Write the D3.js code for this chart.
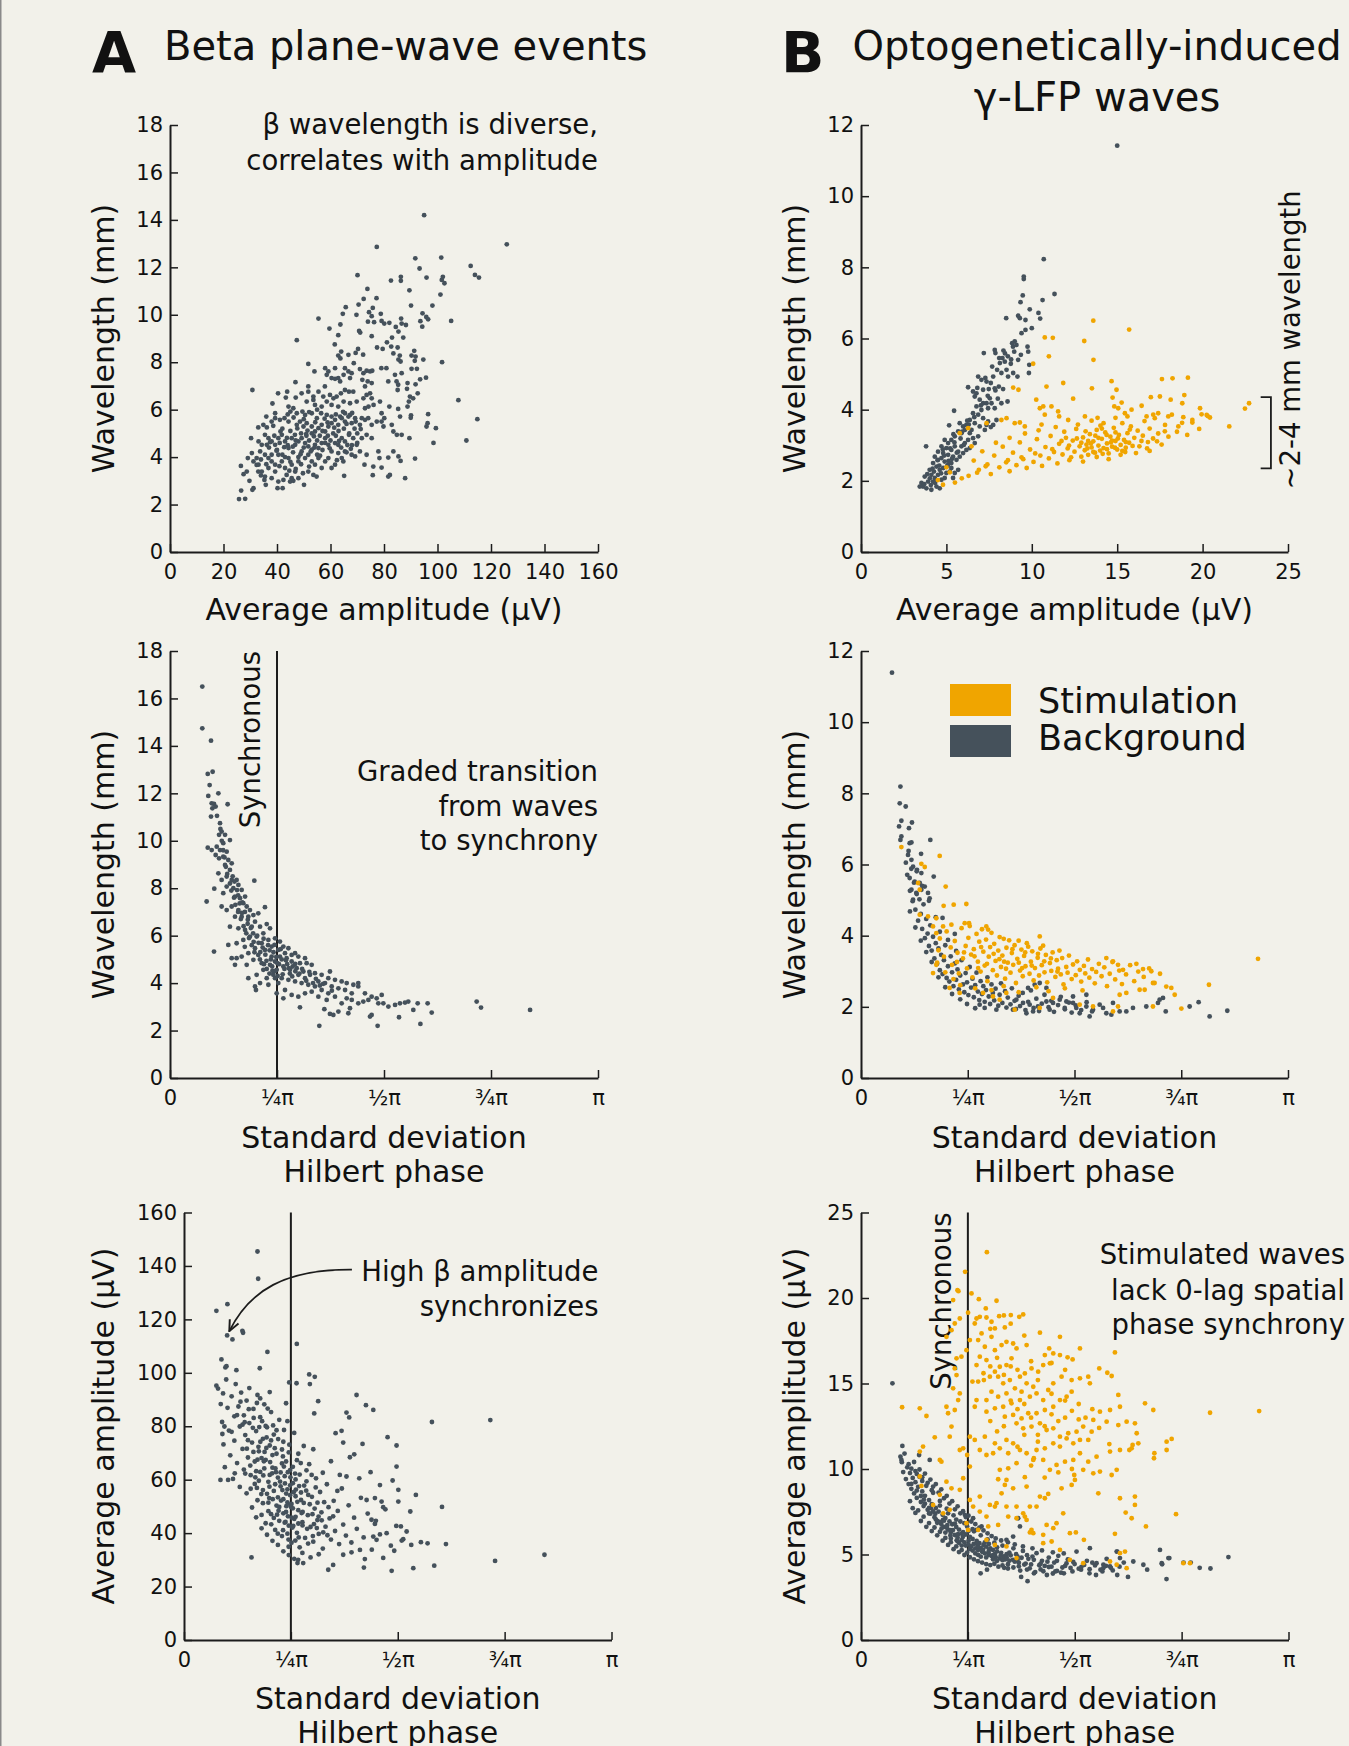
<!DOCTYPE html>
<html lang="en">
  <head>
    <meta charset="UTF-8" />
    <title>Beta and gamma plane-wave events</title>
    <style>
      body { margin: 0; background: #f2f1ea; }
      text { font-family: 'DejaVu Sans', sans-serif; fill: #111; }
    </style>
  </head>
  <body>
    <script src="https://d3js.org/d3.v7.min.js"></script>
    <script>
      // values (estimated point by point)
      // A, top: average amplitude (uV) vs wavelength (mm)
      const betaAmpWl = [[95,14.2],[125.9,12.97],[77.3,12.86],[91.7,12.38],[101.4,12.41],[112.4,12.06],[114,11.68],[115.5,11.57],[93.3,11.95],[70.1,11.67],[82.6,11.44],[86.3,11.6],[86.3,11.43],[95.9,11.57],[102,11.6],[101.6,11.47],[102.6,11.33],[89.5,11.03],[73.8,11.09],[77.2,10.7],[101.1,10.85],[72.4,10.67],[90.1,10.39],[98.1,10.39],[70.5,10.43],[65.7,10.32],[75.8,10.29],[94.4,10.06],[93.6,9.73],[95.8,9.91],[96.5,9.81],[94.3,9.5],[105.1,9.74],[55.5,9.84],[64.6,10.04],[69.7,10.0],[74.4,10.11],[75.4,9.94],[74,9.71],[76.3,9.69],[78.8,10.04],[79.1,9.74],[80.1,9.63],[82,9.66],[84.4,9.49],[85.4,9.29],[86.4,9.84],[86.6,9.63],[88.2,9.57],[87.2,9.04],[59.6,9.42],[63.7,9.59],[62.9,9.14],[70.7,9.32],[71.1,9.25],[75.4,9.1],[83,9.04],[47.4,8.93],[61.6,8.75],[77.4,8.62],[79.5,8.56],[81.1,8.84],[82.7,8.66],[83.5,8.37],[85.1,8.62],[64,8.45],[62.9,8.28],[63.7,8.16],[66.7,8.31],[69.4,8.39],[70.3,8.56],[72.2,8.32],[85.9,8.28],[85.4,8.11],[86.2,8.03],[91.3,8.48],[90.3,8.28],[91.8,8.24],[91.5,8.06],[94.7,8.11],[101.7,8.0],
        [51.7,7.93],[54,7.61],[58,7.75],[59.2,7.61],[58.6,7.47],[60.4,7.33],[61.7,7.3],[62.9,7.33],[63.6,7.19],[61.7,7.75],[65.4,7.75],[66.7,7.61],[64.9,7.47],[67.3,7.33],[67.9,7.54],[68.7,7.96],[71,7.71],[72.3,7.54],[73.5,7.64],[74.8,7.61],[75.6,7.64],[71.9,7.26],[73.9,7.19],[75.4,7.12],[72.9,6.98],[79,7.75],[80.9,7.75],[81.6,7.19],[84.1,7.47],[84.7,7.19],[85.3,7.05],[85.1,6.83],[86.6,7.54],[88.8,7.12],[88.6,6.88],[90.3,7.72],[92.3,7.72],[91.8,7.07],[93.5,7.28],[95.7,7.35],[46.9,7.16],[43.8,6.76],[40.4,6.69],[30.8,6.83],[43.3,6.51],[47,6.51],[49.2,6.69],[51.7,6.98],[51.7,6.76],[53.6,6.55],[55.5,6.76],[57.3,6.55],[57.9,6.98],[51.1,6.34],[53.6,6.41],[54.2,6.2],[56.7,6.13],[58.6,6.34],[59.8,6.62],[61.1,6.48],[62.3,6.55],[63.9,6.69],[65.4,6.83],[66.9,6.76],[68.5,6.76],[60.4,6.2],[62.9,6.13],[64.9,6.34],[67.3,6.27],[69.8,6.34],[72.3,6.48],[73.5,6.62],[74.8,6.69],[75.4,6.48],[38.3,6.26],[39.3,5.85],[36.0,5.71],[44.3,6.13],[45,5.92],[46.1,6.06],[47.4,5.85],[49.5,5.92],[50.5,5.78],[53,5.85],[54.9,5.64],[56.5,5.85],[58.6,5.78],[60.4,5.71],[63.6,5.71],[65.4,5.85],[67.3,5.78],[69.2,5.64],[71.7,5.64],[72.9,6.06],[74.2,6.13],[76.1,6.2],[78.5,6.34],[82,6.13],[79.1,5.85],[80.1,5.64],[85.3,6.03],[86,5.71],[88.8,6.13],[89.3,6.34],[89.7,6.55],[90.9,6.48],[92.6,6.69],[90.1,5.76],[90,5.66],[96.5,5.81],[96.3,5.43],[95.9,5.29],[99.4,5.22],[98.5,4.6],[107.8,6.4],[114.9,5.6],[110.8,4.7],[91.6,3.94],[87.9,3.11],
        [33,5.25],[30.3,4.8],[30.6,4.17],[26.5,3.63],[25.8,2.23],[28.1,2.24],[26.6,2.59],[27.5,3.28],[29.1,3.96],[28.7,3.39],[29.7,3.0],[31.2,2.69],[30.8,2.62],[32.4,3.67],[33,3.39],[34,3.23],[35.3,3.04],[35.8,2.83],[34.9,5.36],[36.2,5.25],[38,5.5],[39.3,5.64],[41.1,5.57],[42.8,5.64],[44.3,5.5],[35.5,4.94],[36.8,4.8],[38,4.66],[39.3,4.52],[40.5,4.8],[41.8,4.94],[43,4.66],[44.3,4.38],[45.5,4.8],[46.7,4.94],[47.4,5.36],[48.6,5.5],[49.9,5.29],[51.1,5.43],[53,5.29],[54.2,5.08],[55.5,5.22],[56.7,5.36],[58,5.08],[59.2,5.29],[60.4,5.43],[61.7,5.57],[62.9,5.36],[64.2,5.64],[65.4,5.5],[66.7,5.71],[67.9,5.43],[69.4,5.5],[71,5.36],[72.9,5.57],[74.1,5.64],[75.4,5.36],[77.3,5.5],[79.1,5.5],[79.8,5.29],[82.9,5.36],[83.5,5.08],[84.8,4.94],[86.6,4.94],[89.5,4.8],
        [46.8,4.52],[48,4.66],[49.2,4.8],[50.5,4.59],[51.7,4.45],[53,4.31],[54.2,4.52],[55.5,4.38],[56.7,4.59],[58,4.8],[59.2,4.52],[60.4,4.24],[61.7,4.59],[62.9,4.52],[64.2,4.8],[65.4,4.66],[66.9,4.94],[68.5,4.8],[69.8,4.52],[71.7,4.8],[73.5,4.94],[75.4,4.8],[49.2,4.24],[50.5,3.96],[51.7,4.1],[53,3.82],[54.2,3.68],[55.5,3.96],[56.7,3.54],[58,3.82],[59.2,3.96],[60.4,3.54],[61.7,3.68],[62.9,4.17],[64.2,3.96],[64.8,3.82],[65.4,4.24],[67.9,4.1],[69.2,4.03],[71,4.24],[72.7,3.68],[73.5,4.1],[76,3.6],[77.9,4.24],[78.3,3.96],[79.1,3.56],[81.6,3.98],[81.6,3.18],[82.2,3.25],[83.5,4.24],[85.4,4.03],[86.2,3.84],[75.8,3.24],[65.1,3.21],[35.5,4.1],[36.8,3.96],[38,3.82],[39.3,3.68],[40.5,4.1],[41.8,3.82],[43,3.54],[44.3,3.96],[45.5,3.68],[46.8,3.39],[48,3.82],[33.1,3.68],[34.3,3.39],[35.5,3.18],[36.8,3.54],[38,3.11],[39.3,3.39],[40.5,2.97],[42.4,3.04],[43.6,3.25],[44.9,2.97],[46.1,3.0],[48,3.11],[50.1,2.83],[40.2,2.69],[42.1,2.69],[45.5,3.11],[51.7,3.39],[53.6,3.25],[54.8,3.18],[31.2,3.82],[32.4,3.96],[33.7,4.24],[34.3,4.52],[33.1,4.66],[36.2,4.52],
        [40,4.3],[42,4.1],[44,4.5],[46,4.2],[48,4.0],[50,4.4],[52,4.7],[54,4.4],[56,4.9],[58,4.6],[45,5.1],[47,4.7],[49,5.0],[51,4.9],[53,5.0],[55,4.7],[57,5.1],[59,4.9],[61,5.0],[63,5.1],[65,5.2],[67,5.0],[69,5.2],[42,5.2],[41,4.6],[43,4.0],[45,3.8],[47,3.5],[49,3.7],[52,3.6],[55,4.1],[57,4.3],[60,4.7],[62,4.9],[64,4.4],[66,4.2],[68,4.5],[70,4.6],[39,4.9],[37,4.4],[38,4.1],[36,3.7],[34,3.9],[50,5.6],[52,5.9],[55,6.0],[44,5.8],[62,5.8],[66,5.4],[70,5.0],
        [37.4,4.63],[39.8,4.27],[41.3,5.08],[43.7,4.81],[45.9,4.44],[47.6,5.21],[48.8,4.12],[50.9,4.97],[52.6,4.24],[54.3,5.47],[56.1,4.06],[57.8,5.62],[59.7,4.37],[61.4,5.24],[63.2,4.68],[64.7,5.91],[66.3,4.51],[68.1,5.86],[40.9,3.62],[44.6,3.43],[46.2,5.67],[49.7,3.32],[53.8,4.88],[58.9,5.46],[62.4,3.87],[67.6,4.35],[71.3,5.18],[38.6,5.32],[42.7,4.42],[51.4,5.12]]

      // A, middle: std of Hilbert phase (rad) vs wavelength (mm)
      const betaPhaseWl = [[0.237,16.5],[0.237,14.74],[0.301,14.22],[0.277,12.82],[0.313,12.91],[0.291,12.35],[0.281,11.89],[0.355,12.0],[0.306,11.58],[0.323,11.55],[0.311,11.37],[0.335,11.44],[0.423,11.54],[0.301,11.02],[0.345,11.05],[0.367,10.74],[0.379,10.39],[0.36,10.25],[0.404,10.25],[0.44,10.03],[0.391,9.9],
        [0.277,9.71],[0.306,9.61],[0.343,9.75],[0.367,9.61],[0.416,9.54],[0.335,9.4],[0.36,9.26],[0.391,9.33],[0.428,9.19],[0.453,9.05],[0.404,8.98],[0.44,8.77],[0.355,8.63],[0.416,8.49],[0.379,8.35],[0.453,8.35],[0.489,8.35],[0.619,8.32],[0.502,8.14],[0.465,8.0],[0.526,7.93],[0.416,8.07],[0.391,7.79],[0.325,7.98],[0.269,7.44],[0.477,7.65],[0.514,7.58],[0.551,7.65],[0.538,7.37],[0.563,7.23],[0.587,7.08],[0.502,7.08],[0.453,7.23],[0.379,7.23],[0.416,7.08],[0.477,6.8],[0.526,6.8],[0.575,6.8],[0.612,6.87],[0.648,6.94],[0.697,7.2],[0.624,6.59],[0.44,6.38],[0.502,6.31],[0.551,6.24],[0.6,6.38],[0.661,6.38],[0.71,6.49],[0.734,6.31],[0.685,6.1],[0.636,5.96],[0.587,5.96],[0.538,5.82],[0.489,5.68],[0.428,5.61],[0.453,5.05],[0.489,5.05],[0.526,5.12],[0.575,5.26],[0.624,5.47],[0.673,5.68],[0.722,5.82],[0.771,5.89],[0.807,5.75],[0.832,5.54],[0.869,5.47],[0.918,5.26],[0.746,5.54],[0.697,5.4],[0.648,5.19],[0.612,4.98],[0.563,4.77],[0.477,4.77],[0.575,4.21],[0.636,4.35],[0.685,4.56],[0.734,4.77],[0.771,4.91],[0.807,5.12],[0.856,5.05],[0.893,4.91],[0.954,4.84],[1.003,4.84],[1.04,4.77],[0.783,4.56],[0.832,4.7],[0.881,4.56],[0.93,4.63],[0.979,4.49],[1.028,4.35],[1.064,4.42],[1.113,4.35],[1.174,4.49],[1.162,4.21],[1.211,4.14],[1.26,4.07],[1.297,4.0],[1.346,3.93],[1.382,4.0],[1.382,3.86],[1.431,3.57],[1.48,3.43],[1.517,3.36],[1.554,3.5],[1.603,3.01],[1.652,3.08],[1.688,3.15],[1.725,3.18],[1.749,3.22],[1.818,3.15],[1.786,2.87],[1.891,3.15],[1.921,2.76],[2.251,3.22],[2.283,2.97],[2.643,2.87],[1.529,3.15],[1.48,2.66],[1.468,2.59],[1.524,2.2],[1.681,2.56],[1.838,2.28],[1.096,2.2],[1.133,2.9],[1.174,2.7],[1.199,2.66],[1.236,2.8],[1.309,2.73],[1.321,2.94],[1.26,3.15],[1.211,3.43],[1.162,3.57],[1.113,3.71],[1.064,3.86],[1.015,3.93],[0.966,4.0],[0.918,4.07],[0.869,4.14],[0.82,4.21],[0.795,4.0],[0.844,3.71],[0.893,3.5],[0.942,3.43],[0.991,3.57],[1.04,3.64],[1.089,3.43],[1.15,3.29],[0.783,3.57],[0.832,3.36],[0.771,4.21],[0.71,4.21],[0.661,4.0],[0.631,3.71],[0.722,3.93],[0.323,5.33],[0.954,2.98],[0.624,3.86],[0.758,4.35],[0.673,4.84],[0.746,5.12],[0.795,5.4],[0.844,5.26],[0.893,5.19],[0.942,5.12],[0.991,5.05],[0.942,4.35],[0.991,4.21],[1.089,4.07],[1.138,4.0],[1.187,3.86],[1.236,3.78],[1.285,3.71],[1.334,3.57],[1.297,3.36],[1.334,3.29],[1.382,3.15],[1.419,3.22],[1.456,3.29],[1.566,3.15],
        [0.65,5.7],[0.68,5.5],[0.7,5.2],[0.72,5.6],[0.74,5.0],[0.76,5.3],[0.78,5.1],[0.8,4.8],[0.82,5.0],[0.84,4.6],[0.86,4.8],[0.88,4.4],[0.9,4.7],[0.66,5.0],[0.69,4.8],[0.71,4.6],[0.73,4.4],[0.75,4.7],[0.77,4.5],[0.79,4.3],[0.62,5.3],[0.6,5.6],[0.58,5.9],[0.56,6.1],[0.54,6.4],[0.52,6.7],[0.5,7.0],[0.48,7.3],[0.47,7.6],[0.45,7.9],[0.44,8.2],[0.42,8.6],[0.41,8.9],[0.4,9.3],[0.39,9.6],[0.38,10.0],[0.37,10.5],[0.57,6.5],[0.61,6.1],[0.64,6.0],[0.55,7.0],[0.53,7.4],[0.5,7.7],[0.46,8.5],[0.95,4.4],[1.0,4.1],[1.05,4.0],[1.1,3.9],[0.92,4.5],[0.97,4.6],
        [0.663,5.31],[0.687,5.87],[0.708,4.94],[0.731,5.38],[0.752,4.52],[0.767,5.61],[0.788,4.84],[0.812,5.43],[0.827,4.37],[0.851,4.96],[0.872,4.63],[0.897,4.28],[0.919,4.81],[0.614,5.74],[0.593,6.32],[0.571,6.67],[0.549,5.53],[0.528,6.96],[0.511,7.36],[0.492,7.92],[0.473,8.28],[1.023,4.47],[1.071,4.18],[1.124,3.97],[1.188,3.68]]

      // A, bottom: std of Hilbert phase (rad) vs average amplitude (uV)
      const betaPhaseAmp = [[0.54,145.4],[0.545,135.2],[0.319,125.7],[0.238,123.2],[0.317,114],[0.356,112.5],[0.434,115],[0.429,115.7],[0.829,110.8],[0.613,107.8],[0.275,105],[0.304,102],[0.312,102.5],[0.385,101],[0.557,101.7],[0.773,96.4],[0.827,96.1],[0.92,99.4],[0.961,98.5],[0.925,95.8],[0.986,89.4],[0.957,84.8],[1.114,77.4],[1.158,78.3],[1.194,85.1],[1.214,83.3],[1.268,91.7],[1.337,87.9],[1.391,86.1],[1.822,81.6],[2.251,82.3],[1.496,75.9],[1.562,72.8],[1.17,73.9],[1.312,73.4],[1.251,69.5],[1.219,68.4],[1.371,62.8],[1.44,58.0],[1.533,59.7],[1.562,64.9],[1.575,56.2],[1.704,54.3],[1.896,49.8],[1.663,48.1],[1.464,49.7],[1.575,51.8],[1.489,40.0],[1.594,42.5],[1.636,40.6],[1.611,37.7],[1.67,35.6],[1.741,36.6],[1.79,36.2],[1.925,35.9],[1.545,33.4],[1.464,30.7],[1.329,30.3],[0.496,30.9],[0.839,30.0],[0.876,28.8],[0.834,28.8],[1.06,26.3],[1.096,28.1],[1.322,27.1],[1.526,25.9],[1.685,26.9],[1.839,27.8],[2.286,29.6],[2.649,31.9],[0.238,95.2],[0.287,92.3],[0.268,59.9],[0.282,77.1],[0.297,79.9],[0.324,59.9],[0.373,62.4],[1.288,60.5],[1.194,61.2],[1.145,61.8],[1.342,52.4],[1.403,53.1],[1.452,51.8],[1.403,43.5],[1.378,45.0],[1.415,37.5],[1.391,38.7],[1.293,33.7],[1.17,31.9],[1.231,32.8],
        [0.25,94.1],[0.27,88.3],[0.28,81.6],[0.29,73.2],[0.3,64.7],[0.31,97.5],[0.32,86.9],[0.33,78.4],[0.34,69.1],[0.35,91.2],[0.36,60.3],[0.37,83.7],[0.37,74.6],[0.38,95.8],[0.39,66.2],[0.4,87.4],[0.41,79.9],[0.41,57.3],[0.42,92.6],[0.43,71.5],[0.44,84.1],[0.44,63.8],[0.45,76.7],[0.46,89.6],[0.46,54.9],[0.47,68.3],[0.48,81.2],[0.48,94.3],[0.49,61.7],[0.5,73.9],[0.5,49.6],[0.51,86.5],[0.52,66.8],[0.52,58.4],[0.53,78.2],[0.54,91.7],[0.54,52.3],[0.55,70.6],[0.56,83.4],[0.56,62.9],[0.57,46.8],[0.58,75.3],[0.58,56.1],[0.59,88.2],[0.6,67.4],[0.6,43.7],[0.61,79.6],[0.62,59.2],[0.62,51.4],[0.63,72.8],[0.64,85.3],[0.64,47.1],[0.65,64.5],[0.66,55.8],[0.66,76.9],[0.67,41.2],[0.68,69.7],[0.68,50.3],[0.69,60.8],[0.7,82.4],[0.7,44.6],[0.71,57.5],[0.72,66.1],[0.72,38.9],[0.73,74.2],[0.73,52.7],[0.74,61.3],[0.75,47.9],[0.75,88.6],[0.76,56.4],[0.77,70.2],[0.77,42.8],[0.78,63.6],[0.79,50.9],[0.79,36.4],[0.8,58.7],[0.81,45.3],[0.81,77.5],[0.82,53.8],[0.83,67.3],[0.83,40.1],[0.84,48.6],[0.85,61.9],[0.85,34.7],[0.86,55.2],[0.87,44.1],[0.88,72.6],[0.88,51.3],[0.89,38.2],[0.9,59.4],[0.91,46.7],[0.92,65.8],[0.93,42.3],[0.94,53.6],[0.95,36.8],[0.96,49.2],[0.97,60.5],[0.98,44.9],[0.99,39.7],[1.0,55.4],[1.01,47.8],[1.02,34.2],[1.03,51.6],[1.04,42.4],[1.05,58.3],[1.07,45.5],[1.08,37.6],[1.1,52.1],[1.11,40.8],[1.13,48.3],[1.14,35.9],[1.16,56.7],[1.17,43.2],[1.19,39.1],[1.21,50.4],[1.23,36.5],[1.25,45.8],[1.27,41.6],[1.3,53.2],[1.32,38.4],[1.35,47.3],[1.38,33.8],[1.41,44.6],[1.44,39.5],[1.48,48.9],[1.52,35.3],[1.56,42.7],[1.6,37.2],
        [0.51,70.4],[0.53,63.2],[0.55,59.6],[0.57,68.1],[0.59,64.2],[0.61,54.7],[0.63,61.8],[0.65,69.2],[0.67,58.3],[0.69,53.4],[0.71,62.7],[0.73,47.4],[0.75,66.8],[0.76,51.5],[0.78,57.9],[0.8,49.3],[0.82,60.1],[0.84,43.6],[0.86,52.4],[0.74,43.9],[0.76,39.8],[0.78,54.2],[0.8,64.8],[0.82,46.1],[0.7,49.8],[0.66,45.7],[0.62,48.2],[0.58,51.2],[0.54,67.5],[0.47,74.8],[0.43,80.6],[0.39,84.2],[0.35,77.9],[0.45,62.3],[0.49,56.6],[0.53,45.9],[0.57,41.8],[0.61,39.4],[0.65,37.1],[0.69,35.6],[0.73,33.2],[0.77,31.8],[0.81,30.4],[0.87,32.6],[0.93,30.9],[0.99,32.1],[0.72,71.3],[0.68,78.5],[0.64,74.7],[0.6,80.1],[0.56,90.4],[0.63,92.8],[0.76,81.9],[0.84,69.7],[0.9,63.5],[0.95,71.4],[1.02,62.6],[1.08,66.9],
        [0.764,46.3],[0.782,60.9],[0.751,54.8],[0.797,42.1],[0.742,58.6],[0.788,49.7],[0.723,56.1],[0.806,55.3],[0.768,37.6],[0.734,64.9],[0.695,48.4],[0.676,62.8],[0.652,52.7],[0.628,57.4],[0.605,71.9],[0.583,61.6],[0.561,74.2],[0.536,56.9],[0.818,37.2],[0.846,57.6],[0.872,47.9],[0.913,54.3],[0.944,47.1],[0.976,41.9],[1.012,44.8],[1.054,39.2],[1.096,46.3],[1.127,55.8],
        [0.462,71.6],[0.487,65.3],[0.506,79.4],[0.524,60.9],[0.547,72.3],[0.568,54.6],[0.587,66.9],[0.607,75.8],[0.626,53.1],[0.648,62.4],[0.667,71.8],[0.684,46.9],[0.706,59.3],[0.727,68.7],[0.746,44.2],[0.763,62.8],[0.781,50.6],[0.803,42.7],[0.822,56.3],[0.843,38.4],[0.864,47.5],[0.883,57.8],[0.905,41.6],[0.924,50.8],[0.947,38.9],[0.968,57.1],[0.989,46.2],[0.476,86.4],[0.512,83.1],[0.553,79.7],[0.592,70.4],[0.633,66.6],[0.672,64.2],[0.713,52.2],[0.752,50.1],[0.792,45.8],[0.833,51.7],[0.871,42.9],[0.912,36.1],[0.955,43.4],[0.415,89.2],[0.446,81.5],[0.536,88.7],[0.574,81.9],[0.615,86.6],[0.655,80.3],[0.692,75.2],[0.735,78.6],[0.774,73.1],[0.816,62.3],[0.858,66.2],[0.898,55.9],[0.938,61.8],[0.981,51.4],[1.023,40.3],[1.062,49.7],[0.728,41.1],[0.769,34.9],[0.689,39.8],[0.641,43.3]]

      // B, top: average amplitude (uV) vs wavelength (mm)
      const gammaAmpWlBg = [[15.0,11.42],[10.7,8.23],[9.53,7.74],[9.53,7.67],[11.33,7.25],[9.47,7.21],[10.63,7.08],[9.34,7.02],[9.88,6.82],[10.39,6.72],[10.49,6.56],[8.5,6.57],[9.2,6.64],[9.3,6.57],[9.63,6.52],[10.0,6.29],[9.63,6.24],[9.4,6.15],[9.0,5.92],[8.85,5.87],[8.9,5.77],[9.1,5.82],[8.97,5.63],[9.75,5.77],[9.79,5.63],[9.36,5.54],[9.2,5.4],[7.19,5.59],[7.83,5.68],[7.87,5.59],[8.34,5.66],[8.28,5.45],[8.09,5.45],[8.6,5.5],[7.68,5.21],[8.13,5.31],[8.42,5.35],[8.77,5.29],[8.52,5.12],[8.22,5.03],[8.61,4.93],[8.91,5.03],[9.16,4.93],[9.85,5.26],[9.83,5.03],[6.86,4.93],[7.05,4.84],[7.35,4.79],[7.6,4.75],[7.83,4.6],[7.74,4.93],[6.27,4.63],[6.56,4.51],[6.76,4.46],[7.15,4.56],[7.48,4.58],[8.07,4.65],[8.32,4.58],[7.87,4.54],[6.66,4.37],[6.95,4.28],[7.15,4.18],[7.35,4.18],[7.54,4.32],[7.64,4.18],[8.58,4.23],[8.22,4.18],[5.45,3.97],[6.76,4.09],[7.05,3.99],[7.44,4.04],[7.83,4.04],[6.56,3.9],[6.86,3.86],[7.15,3.76],[7.44,3.67],[7.74,3.57],[7.93,3.71],[7.35,3.57],[6.37,3.71],[6.66,3.62],[6.95,3.53],[7.25,3.43],[7.6,3.51],[5.16,3.56],[5.78,3.62],[5.98,3.53],[6.17,3.57],[6.08,3.43],[5.88,3.34],[5.69,3.39],[5.49,3.25],[5.29,3.15],[6.37,3.34],[6.56,3.2],[6.27,3.15],[6.08,3.06],[5.88,2.97],[6.66,3.06],[6.86,3.25],[6.47,3.43],[4.9,3.15],[5.1,3.06],[4.71,2.97],[5.0,2.92],[5.29,2.87],[5.49,2.97],[5.69,2.82],[4.51,2.82],[4.81,2.78],[5.1,2.73],[5.39,2.68],[5.59,2.59],[5.78,2.68],[5.98,2.78],[6.17,2.87],[6.37,2.92],[3.81,2.97],[4.32,2.68],[4.51,2.59],[4.71,2.64],[4.9,2.54],[5.1,2.45],[5.29,2.36],[4.22,2.5],[4.42,2.4],[4.61,2.31],[4.81,2.36],[5.0,2.22],[5.2,2.26],[4.02,2.31],[4.12,2.17],[4.32,2.08],[4.51,2.17],[4.71,2.03],[4.9,2.08],[3.73,2.12],[3.93,1.98],[3.54,1.94],[3.63,1.84],[3.44,1.84],[3.83,1.79],[4.12,1.75],[4.42,1.84],[4.61,1.79],[4.22,1.98],[5.49,2.22],[5.69,2.31],[5.39,2.08],[5.29,2.5],
        [4.03,2.07],[4.27,2.26],[4.58,2.43],[4.87,2.71],[5.22,2.91],[5.47,3.08],[5.83,3.19],[4.38,2.02],[4.69,2.21],[5.04,2.41],[5.33,2.62],[5.61,2.79],[6.02,3.01],[6.31,3.58],[6.63,3.79],[7.02,4.12],[3.88,2.19],[4.19,2.34],[4.79,2.88],[5.41,3.31],[5.92,3.38],[6.22,3.69],[3.71,1.91],[4.48,2.58],[5.13,2.56],[4.09,1.88],[4.34,1.94],[6.81,4.61],[7.28,4.89],[7.97,5.12],[8.43,5.58],[8.79,5.41],[7.42,4.39],[8.01,4.31]]
      const gammaAmpWlStim = [[13.6,6.5],[15.7,6.25],[13.07,5.93],[13.61,5.4],[11.23,6.02],[10.76,6.03],[11.0,5.5],[10.08,5.29],[8.91,4.62],[9.22,4.56],[10.86,4.65],[11.84,4.75],[13.52,4.6],[14.67,4.8],[14.96,4.56],[17.62,4.86],[18.24,4.88],[19.14,4.9],[12.42,4.31],[10.26,4.28],[14.73,4.34],[15.26,4.2],[14.83,4.09],[15.06,4.04],[16.43,4.11],[16.97,4.35],[17.5,4.37],[18.13,4.28],[18.93,4.41],[18.81,4.18],[22.72,4.18],[22.48,4.03],[19.85,4.04],[20.24,3.85],[20.43,3.78],[19.94,3.87],[21.56,3.53],[10.47,4.04],[10.67,4.09],[11.15,4.09],[10.76,3.86],[11.54,3.95],[11.6,3.81],[12.13,3.71],[13.11,3.81],[13.85,3.77],[15.45,3.9],[15.84,4.0],[16.72,3.81],[17.11,3.86],[17.4,3.9],[17.99,3.81],[18.87,3.79],[19.4,3.64],[18.58,3.53],[17.79,3.39],[8.22,3.71],[8.52,3.76],[9.0,3.62],[9.3,3.64],[9.59,3.53],[10.57,3.58],[7.35,3.62],[5.78,3.34],[6.27,3.48],[6.47,2.97],
        [6.3,2.14],[6.6,2.57],[6.9,2.31],[7.1,2.83],[7.4,2.46],[7.6,2.19],[7.8,2.71],[8.1,2.38],[8.3,2.96],[8.5,2.52],[8.7,2.27],[8.9,2.79],[9.1,2.44],[9.3,3.08],[9.5,2.61],[9.7,2.36],[9.9,2.88],[10.1,2.53],[10.3,3.17],[10.5,2.71],[10.6,2.42],[10.8,2.95],[11.0,2.63],[11.1,3.26],[11.3,2.81],[11.5,2.49],[11.6,3.04],[11.8,2.74],[11.9,3.38],[12.1,2.91],[12.2,2.58],[12.4,3.13],[12.5,2.82],[12.6,3.46],[12.8,2.97],[12.9,2.68],[13.0,3.22],[13.1,2.86],[13.2,3.02],[13.3,2.73],[13.4,3.31],[13.5,2.94],[13.6,3.11],[13.7,2.79],[13.8,3.43],[13.9,2.99],[14.0,2.85],[14.1,3.18],[14.2,2.92],[14.3,3.36],[14.4,3.05],[14.5,2.77],[14.6,3.24],[14.7,2.96],[14.8,3.49],[14.9,3.12],[15.0,2.88],[15.1,3.29],[15.2,3.01],[15.3,3.62],[15.4,3.15],[15.5,2.93],[15.6,3.34],[15.7,3.07],[15.8,3.53],[15.9,2.98],[16.0,3.21],[16.2,3.41],[16.3,2.97],[16.5,3.27],[16.6,3.68],[16.8,3.09],[16.9,3.47],[17.1,3.19],[17.2,3.76],[17.4,3.33],[17.6,3.02],[17.8,3.57],[18.0,3.24],[18.2,3.86],[18.5,3.38],[18.8,3.63],[19.1,3.29],[19.4,3.71],[19.8,3.46],[20.3,3.82],[12.3,2.66],[13.0,2.54],[13.8,2.67],[14.5,2.61],[15.2,2.73],[16.1,2.78],[16.9,2.84],[12.7,3.58],[13.5,3.69],[14.2,3.62],[14.9,3.77],[15.6,3.81],[11.4,3.51],[10.4,3.42],[9.6,3.33],[8.7,3.21],[7.9,3.07],[13.3,3.12],[13.9,3.21],[14.4,2.89],[14.9,3.36],[15.5,3.09],[12.9,3.07],[13.6,2.81],[14.7,3.13],[15.3,2.84],[14.1,3.47],[12.0,3.21],[11.2,2.89],[10.2,2.77],[9.4,2.66],[8.6,2.58],[7.3,2.41],[6.8,2.23],[5.9,2.07],[5.5,1.95],[5.2,2.24],[4.8,1.89],[4.5,2.02],[5.0,2.38],
        [13.25,2.91],[13.72,3.27],[14.15,2.76],[14.63,3.08],[15.04,3.19],[15.47,2.81],[13.46,3.05],[14.38,3.29],[14.87,2.93],[12.64,3.19],[12.18,2.99],[11.74,3.12],[16.42,3.12],[16.75,2.91],[17.33,3.11],[15.74,3.44],[14.02,3.55],[13.15,3.39]]

      // B, middle: std of Hilbert phase (rad) vs wavelength (mm)
      const gammaPhaseWlBg = [[0.228,11.39],[0.29,8.19],[0.285,7.72],[0.329,7.63],[0.297,7.23],[0.375,7.18],[0.28,7.07],[0.353,7.02],[0.297,6.79],[0.29,6.69],[0.358,6.6],[0.371,6.62],[0.51,6.69],[0.346,6.27],[0.442,6.3],[0.371,6.13],[0.383,5.94],[0.412,5.85],[0.444,5.76],[0.535,5.66],[0.358,5.62],[0.395,5.52],[0.432,5.48],[0.469,5.38],[0.371,5.29],[0.407,5.2],[0.444,5.29],[0.493,5.2],[0.505,5.05],[0.383,5.01],
        [0.33,6.05],[0.34,5.71],[0.35,6.38],[0.36,5.26],[0.37,5.88],[0.38,4.97],[0.39,5.49],[0.4,4.73],[0.41,5.17],[0.42,4.42],[0.43,5.02],[0.44,4.61],[0.45,4.19],[0.46,4.88],[0.47,3.93],[0.48,4.47],[0.49,4.06],[0.5,3.71],[0.51,4.29],[0.52,3.58],[0.53,3.97],[0.54,3.36],[0.55,3.79],[0.56,3.21],[0.57,3.64],[0.58,3.03],[0.59,3.46],[0.6,2.92],[0.61,3.31],[0.62,3.73],[0.63,2.81],[0.64,3.14],[0.65,2.71],[0.66,3.42],[0.67,2.97],[0.68,2.58],[0.69,3.22],[0.7,2.76],[0.71,3.05],[0.72,2.49],[0.73,2.88],[0.74,3.31],[0.75,2.63],[0.76,2.41],[0.77,2.95],[0.78,2.69],[0.79,2.33],[0.8,3.12],[0.81,2.54],[0.82,2.79],[0.83,2.27],[0.84,2.61],[0.85,2.96],[0.86,2.43],[0.87,2.19],[0.88,2.72],[0.89,2.36],[0.9,2.58],[0.91,2.14],[0.92,2.47],[0.93,2.83],[0.94,2.29],[0.95,2.08],[0.96,2.63],[0.97,2.39],[0.98,2.18],[0.99,2.51],[1.01,2.03],[1.02,2.34],[1.03,2.66],[1.04,2.11],[1.06,2.44],[1.07,1.98],[1.08,2.26],[1.1,2.07],[1.11,2.52],[1.13,2.17],[1.14,1.94],[1.16,2.31],[1.17,2.02],[1.19,2.39],[1.21,1.91],[1.23,2.14],[1.25,2.46],[1.27,1.97],[1.29,2.23],[1.31,1.88],[1.33,2.09],[1.35,2.34],[1.38,1.99],[1.4,2.17],[1.42,1.86],[1.45,2.05],[1.47,2.28],[1.5,1.93],[1.53,2.12],[1.55,1.84],[1.58,2.04],[1.62,1.91],[1.66,2.13],[1.7,1.87],[0.45,5.4],[0.41,5.81],[0.5,4.98],[0.55,4.52],[0.58,4.11],[0.64,3.88],[0.7,3.57],[0.36,4.68],[0.4,4.23],[0.44,3.86],[0.48,3.54],[0.52,3.26],[0.57,2.83],[0.62,2.55],[0.67,2.36],[0.73,2.21],[0.78,2.08],[0.84,1.96],[0.6,4.5],[0.69,4.05],
        [0.873,2.06],[0.91,1.97],[1.143,2.2],[1.192,2.11],[1.241,2.06],[1.302,2.01],[1.364,2.15],[1.413,2.11],[1.462,2.2],[1.511,2.15],[1.56,2.11],[1.584,1.97],[1.658,2.01],[1.707,1.92],[1.805,1.82],[1.842,1.78],[1.903,1.87],[1.952,1.87],[1.499,1.97],[1.388,1.92],[1.266,1.87],[1.217,1.82],[1.118,1.92],[0.996,1.92],[1.609,1.82],[1.682,1.73],[1.756,2.06],[1.781,1.97],[1.56,2.29],[1.658,2.34],[2.099,2.01],[2.197,2.2],[2.222,2.25],[2.185,2.11],[2.242,1.87],[2.418,2.01],[2.484,2.13],[2.565,1.73],[2.695,1.89],[1.854,2.11],[2.001,1.97],[1.229,2.53],[1.315,2.67],[1.364,2.53],[1.278,2.62]]
      const gammaPhaseWlStim = [[0.297,6.49],[0.579,6.24],[0.444,6.02],[0.469,5.93],[0.623,5.38],[0.42,5.48],[0.432,5.29],[0.608,4.84],[0.682,4.87],[0.775,4.89],[0.432,4.59],[0.493,4.54],[0.554,4.49],[0.604,4.26],[0.665,4.31],[0.763,4.35],[0.795,4.35],[0.922,4.26],[0.935,4.17],[1.315,3.98],[1.805,3.37],[1.854,3.28],[2.026,3.21],[2.075,3.06],[2.136,3.0],[2.148,2.67],[2.246,2.57],[2.283,2.53],[2.308,2.34],[2.56,2.62],[2.921,3.35],[2.357,1.95],[2.148,2.01],[1.903,2.34],[1.891,2.01],[1.854,1.87],[1.707,2.01],[1.609,2.06],[1.131,1.92],[1.315,1.97],[1.413,2.25],[1.02,2.2],[0.971,2.29],[1.069,2.39],[0.898,2.39],[0.726,2.39],[0.652,2.53],[0.53,2.95],[0.554,3.18],[0.53,4.26],[0.554,4.07],[1.928,3.04],[1.891,3.18],[1.952,2.39],[2.05,2.48],[2.087,2.48],
        [0.58,3.92],[0.61,3.41],[0.63,4.12],[0.66,3.67],[0.67,3.18],[0.69,3.85],[0.71,3.52],[0.72,2.94],[0.74,4.21],[0.75,3.36],[0.77,3.71],[0.78,3.08],[0.79,3.94],[0.81,3.47],[0.82,2.83],[0.83,3.62],[0.85,4.05],[0.86,3.27],[0.87,3.83],[0.88,2.99],[0.9,3.55],[0.91,3.16],[0.92,3.89],[0.93,2.72],[0.94,3.41],[0.95,3.68],[0.97,3.03],[0.98,3.77],[0.99,3.29],[1.0,2.88],[1.01,3.58],[1.02,3.96],[1.03,3.12],[1.04,3.44],[1.06,2.79],[1.07,3.66],[1.08,3.24],[1.09,3.87],[1.1,2.96],[1.11,3.51],[1.12,3.18],[1.13,3.73],[1.14,2.67],[1.15,3.35],[1.17,3.02],[1.18,3.61],[1.19,2.86],[1.2,3.43],[1.21,3.14],[1.22,3.79],[1.24,2.93],[1.25,3.27],[1.26,3.56],[1.27,2.74],[1.28,3.09],[1.3,3.38],[1.31,2.88],[1.32,3.64],[1.33,3.17],[1.35,2.97],[1.36,3.46],[1.37,2.69],[1.39,3.23],[1.4,3.01],[1.41,3.53],[1.43,2.84],[1.44,3.31],[1.45,3.07],[1.47,2.91],[1.48,3.37],[1.49,2.63],[1.51,3.12],[1.52,2.96],[1.53,3.44],[1.55,2.78],[1.56,3.19],[1.58,2.89],[1.59,3.28],[1.61,3.04],[1.62,2.71],[1.64,3.15],[1.65,2.94],[1.67,3.33],[1.68,2.82],[1.7,3.06],[1.72,2.66],[1.73,2.98],[1.75,3.21],[1.77,2.86],[1.79,3.11],[1.81,2.58],[1.83,2.93],[1.85,3.26],[1.87,2.77],[1.9,3.02],[1.92,2.64],[1.95,2.91],[1.98,3.17],[2.01,2.72],[2.04,2.99],[2.08,2.84],[2.12,3.08],[2.16,2.67],[2.2,2.93],[0.96,4.08],[1.05,3.91],[1.16,3.86],[0.89,4.18],[0.8,4.27],[1.23,3.69],[1.34,3.72],[1.46,3.58],[0.73,2.61],[0.84,2.52],[0.96,2.47],[1.05,2.58],[1.16,2.41],[1.29,2.55],[1.38,2.44],[1.5,2.52],[1.63,2.46],[0.68,2.78],[0.62,2.97],[0.56,3.24],[0.57,3.59],
        [0.835,3.42],[0.884,3.68],[0.927,3.21],[0.976,3.49],[1.018,3.34],[1.067,3.07],[1.114,3.62],[1.161,3.24],[1.208,3.53],[1.256,3.16],[1.302,3.49],[1.348,3.28],[1.397,3.36],[1.445,2.99],[0.862,3.09],[0.758,3.53],[0.706,3.26],[1.053,3.27],[1.186,3.09]]

      // B, bottom: std of Hilbert phase (rad) vs average amplitude (uV)
      const gammaPhaseAmpBg = [[0.231,15.01],[0.304,11.35],[0.29,10.72],[0.297,10.53],[0.427,10.82],[0.505,10.53],[1.155,7.12],[1.168,6.64],[1.118,6.05],[1.069,5.86],[0.886,6.64],[0.849,6.44],[0.824,7.12],[0.763,7.32],[1.879,5.17],[2.197,5.27],[2.259,4.79],[2.21,4.49],[1.584,5.17],[1.682,5.37],[1.883,5.17],[1.805,4.75],[1.931,4.53],[2.103,4.11],[2.245,3.56],[2.266,4.79],[2.213,4.43],[2.37,4.53],[2.423,4.53],[2.489,4.22],[2.568,4.18],[2.7,4.85],[0.879,3.9],[0.926,4.11],[1.052,4.22],[1.177,3.69],[1.224,3.44],[1.271,3.9],[1.366,3.8],[1.428,4.01],[1.491,3.9],[1.554,4.01],[1.617,4.11],[1.679,3.9],[1.727,3.8],[1.774,4.01],[1.836,4.22],[1.883,3.8],[1.962,3.69],[2.001,4.59],[2.075,4.4],[1.731,4.49],[1.781,4.4],[1.83,4.3],[1.903,4.79],
        [0.3,10.4],[0.31,9.82],[0.32,10.9],[0.33,9.41],[0.34,10.1],[0.35,9.12],[0.36,9.76],[0.37,8.84],[0.38,9.48],[0.39,8.57],[0.4,9.23],[0.41,8.31],[0.42,8.96],[0.43,9.54],[0.44,8.07],[0.45,8.69],[0.46,7.83],[0.47,8.43],[0.48,9.02],[0.49,7.61],[0.5,8.18],[0.51,7.39],[0.52,7.94],[0.53,8.61],[0.54,7.18],[0.55,7.72],[0.56,6.97],[0.57,7.51],[0.58,8.13],[0.59,6.79],[0.6,7.32],[0.61,6.62],[0.62,7.13],[0.63,7.68],[0.64,6.45],[0.65,6.94],[0.66,6.29],[0.67,6.77],[0.68,7.29],[0.69,6.14],[0.7,6.61],[0.71,5.98],[0.72,6.46],[0.73,6.93],[0.74,5.84],[0.75,6.31],[0.76,5.71],[0.77,6.17],[0.78,6.64],[0.79,5.59],[0.8,6.03],[0.81,5.47],[0.82,5.91],[0.83,6.36],[0.84,5.36],[0.85,5.79],[0.86,5.26],[0.87,5.67],[0.88,6.12],[0.89,5.16],[0.9,5.56],[0.91,5.07],[0.92,5.46],[0.93,5.88],[0.94,4.98],[0.95,5.36],[0.96,4.91],[0.97,5.27],[0.98,5.69],[0.99,4.84],[1.0,5.18],[1.02,4.77],[1.03,5.1],[1.04,5.52],[1.06,4.71],[1.07,5.02],[1.09,4.64],[1.1,4.95],[1.12,5.36],[1.13,4.58],[1.15,4.88],[1.16,4.52],[1.18,4.81],[1.19,5.21],[1.21,4.47],[1.23,4.75],[1.25,4.42],[1.27,4.69],[1.29,5.08],[1.31,4.37],[1.33,4.63],[1.35,4.33],[1.37,4.58],[1.4,4.29],[1.42,4.53],[1.45,4.92],[1.48,4.24],[1.51,4.48],[1.54,4.21],[1.57,4.44],[1.6,4.17],[1.64,4.39],[1.68,4.14],[1.72,4.36],[1.76,4.11],[1.8,4.33],[1.85,4.07],[1.9,4.29],[0.4,9.88],[0.45,9.3],[0.52,8.76],[0.58,7.86],[0.64,7.41],[0.7,7.04],[0.76,6.83],[0.82,6.48],[0.88,5.37],[0.94,5.62],[0.62,6.28],[0.56,6.85],[0.5,7.4],[0.72,5.68],[0.8,5.31],[0.86,4.98],[0.92,4.83],[1.0,4.63],[1.08,4.43],[1.16,4.31],[1.24,4.19],[1.32,4.13],[1.44,4.04],[0.66,5.94],[0.74,5.52],[0.84,5.06],[0.97,4.72],[1.05,4.89],[1.14,5.02],[1.22,4.96],[1.38,4.82],[1.52,4.71],[1.66,4.63],
        [0.462,8.21],[0.513,7.71],[0.546,7.39],[0.603,7.02],[0.634,6.71],[0.676,6.43],[0.713,6.19],[0.748,6.02],[0.791,5.81],[0.828,5.62],[0.861,5.49],[0.897,5.28],[0.937,5.13],[0.983,5.02],[1.026,4.93],[1.071,4.81],[1.117,4.69],[0.592,6.52],[0.657,6.11],[0.703,5.83],
        [0.36,8.12],[0.38,7.71],[0.4,7.43],[0.42,7.58],[0.44,6.96],[0.46,7.21],[0.48,6.62],[0.5,6.84],[0.52,6.37],[0.54,6.58],[0.56,6.12],[0.58,6.33],[0.6,5.81],[0.62,5.97],[0.64,5.56],[0.66,5.72],[0.68,5.31],[0.7,5.47],[0.72,5.14],[0.74,5.26],[0.76,4.97],[0.78,5.11],[0.8,4.84],[0.83,4.72],[0.86,4.61],[0.89,4.53],[0.92,4.44],[0.95,4.38],[0.98,4.46],[1.01,4.29],[1.04,4.36],[1.08,4.18],[1.12,4.24],[1.17,4.06],[1.22,4.12],[1.28,3.97],[1.34,4.02],[1.41,3.89],[1.47,3.94],
        [0.35,10.28],[0.37,10.02],[0.39,10.41],[0.41,9.71],[0.43,9.97],[0.45,9.52],[0.47,9.73],[0.49,9.19],[0.51,9.38],[0.53,8.97],[0.55,9.12],[0.57,8.62],[0.59,8.81],[0.61,8.29],[0.63,8.43],[0.65,7.98],[0.67,8.12],[0.69,7.64],[0.71,7.82],[0.73,7.41],[0.75,7.53],[0.77,7.19],[0.79,7.27],[0.81,6.93],[0.84,6.78],[0.87,6.57],[0.9,6.41],[0.93,6.24],[0.96,6.08],[0.99,5.94],[1.03,5.82],[1.08,5.71],[1.13,5.59],[1.19,5.47],[1.26,5.36],[1.33,5.24],[1.41,5.13],[1.49,5.06],
        [0.37,9.13],[0.41,8.74],[0.44,8.42],[0.47,7.97],[0.5,7.73],[0.53,7.52],[0.55,7.05],[0.58,6.91],[0.61,6.98],[0.63,6.57],[0.66,6.42],[0.69,6.81],[0.71,5.77],[0.74,6.22],[0.77,5.52],[0.79,6.37],[0.82,5.23],[0.85,5.63],[0.88,4.87],[0.91,5.71],[0.94,5.27],[0.97,4.96],[1.0,5.42],[1.04,4.67],[1.09,5.11],[1.15,4.71],[1.2,4.41],[1.26,4.88],[1.32,4.46],[1.38,4.27],[1.44,4.63],[1.5,4.33],[1.56,4.56],[1.62,4.28],[1.7,4.52],[1.78,4.19]]
      const gammaPhaseAmpStim = [[0.925,22.68],[0.765,21.53],[0.709,20.46],[0.812,20.27],[0.866,19.93],[0.917,19.39],[0.996,19.84],[0.787,19.14],[0.726,18.8],[0.849,18.8],[0.873,18.9],[0.922,18.86],[0.959,18.61],[1.015,18.94],[1.05,18.98],[1.101,19.0],[1.163,18.9],[1.192,19.04],[1.057,18.28],[0.984,18.22],[0.959,17.73],[0.886,17.93],[0.836,18.51],[0.861,17.54],[0.8,17.54],[0.91,17.15],[0.984,16.95],[1.033,17.25],[1.069,17.44],[1.118,17.34],[1.143,17.05],[1.106,16.47],[1.069,16.08],[1.02,15.98],[0.984,15.69],[0.947,15.4],[0.903,15.2],[0.861,15.11],[0.819,15.11],[0.849,16.08],[0.922,16.37],[0.873,16.57],[1.217,17.25],[1.315,17.97],[1.462,17.73],[1.383,17.05],[1.413,16.76],[1.462,16.66],[1.518,16.53],[1.555,16.41],[1.609,17.05],[1.866,16.82],[1.751,15.88],[1.81,15.63],[1.842,15.44],[1.351,16.66],[1.339,16.08],[1.388,16.18],[1.302,15.69],[1.253,15.88],[1.204,15.59],[1.168,15.4],[1.217,15.01],[1.266,14.81],[1.18,14.52],[1.131,14.72],[1.094,15.2],[1.045,15.01],[1.008,15.4],[1.069,14.42],[1.008,14.23],[0.959,14.52],[0.922,14.03],[0.849,14.03],[0.836,13.64],[0.922,13.35],[0.984,13.55],[1.045,13.64],[1.106,13.84],[1.168,14.03],[1.241,14.23],[1.29,14.42],[1.339,14.03],[1.376,14.62],[1.413,15.01],[1.474,15.4],[1.548,15.2],[1.609,15.3],[1.67,15.4],[1.682,15.01],[1.548,14.52],[1.511,14.23],[1.462,14.03],[1.413,13.64],[1.351,13.45],[1.29,13.26],[1.229,13.26],[1.18,12.96],[1.118,13.16],[1.057,13.06],[1.143,12.67],[1.192,12.38],[1.253,12.48],[1.315,12.67],[1.364,12.28],[1.413,12.38],[1.462,11.89],[1.523,12.09],[1.584,12.18],[1.633,12.48],[1.707,12.87],[1.756,13.35],[1.83,13.45],[1.891,14.33],[1.903,13.64],[1.952,12.77],[2.026,12.09],[2.013,12.67],[2.087,13.84],[2.148,13.45],[2.246,11.6],[2.283,11.76],[1.989,11.21],[2.038,11.5],[1.891,12.57],[1.805,12.77],[1.695,12.18],[1.67,11.7],[1.609,11.7],[1.56,11.5],[1.511,11.79],[1.462,11.31],[1.413,11.5],[1.351,11.21],[1.29,11.11],[1.266,10.53],[1.217,10.92],[1.168,11.11],[1.118,11.5],[1.069,11.7],[1.02,11.21],[0.971,10.92],[0.922,10.82],[0.873,11.11],[0.836,11.7],[0.91,11.89],[0.984,11.5],[1.082,10.92],[1.143,10.34],[1.082,10.04],[1.02,9.95],[1.008,9.4],[1.057,9.07],[1.118,8.87],[1.204,9.52],[1.217,8.97],[1.27,10.63],[1.339,10.53],[1.388,9.95],[1.437,10.24],[1.499,10.43],[1.56,10.53],[1.609,10.92],[1.67,10.43],[1.731,10.72],[1.825,11.46],[1.83,11.02],[1.903,11.11],[1.972,11.11],[1.996,11.41],[2.156,10.92],[2.153,10.63],[2.246,11.11],[1.567,9.65],[1.474,8.87],[1.548,9.07],[1.572,9.36],[1.633,9.95],[1.707,9.75],[1.756,9.85],[1.842,9.65],[1.879,9.95],[1.744,8.58],[1.903,8.29],[2.013,8.39],[2.013,7.9],[1.945,7.45],[1.989,7.12],[2.094,6.64],[1.866,6.21],[2.315,7.36],[1.638,5.86],[1.579,6.29],[1.535,6.25],[1.486,7.41],[1.437,6.83],[1.413,6.54],[1.364,6.73],[1.339,6.15],[1.315,8.39],[1.351,8.29],[1.376,8.54],[1.29,7.8],[1.241,7.8],[1.204,7.22],[1.217,7.02],[1.143,7.12],[1.082,7.22],[1.008,6.73],[0.935,6.64],[0.922,7.22],[0.873,7.51],[0.824,7.8],[0.8,8.19],[0.873,8.39],[0.947,7.9],[0.984,7.8],[0.996,8.0],[1.069,7.8],[1.143,7.8],[1.192,7.41],[1.253,6.44],[1.241,6.29],[2.565,13.29],[2.926,13.39],
        [0.8,11.89],[0.726,11.11],[0.751,11.21],[0.78,10.82],[0.751,9.46],[0.628,9.26],[0.665,8.87],[0.726,8.78],[0.652,7.61],[0.604,7.41],[0.579,8.49],[0.53,7.9],[0.444,9.01],[0.432,9.56],[0.432,11.02],[0.456,11.31],[0.542,11.85],[0.652,11.89],[0.579,10.53],[0.591,10.43],[0.64,13.26],[0.689,13.45],[0.665,12.48],[0.628,13.64],[0.481,13.1],[0.432,13.55],[0.302,13.61],[0.677,14.72],[0.714,14.03],[0.726,14.42],[0.702,15.49],[0.689,15.88],[0.738,16.57],[0.775,16.95],[0.702,16.47],[0.628,17.73],[0.665,18.12],[0.689,18.51],[0.677,19.88],[0.716,20.4],[1.033,8.58],[1.069,9.36],[0.8,10.14],[0.775,6.83],[0.787,6.44],[0.861,6.44],[0.922,5.86],[0.984,5.56],[1.069,5.47],[1.143,4.79],[1.266,6.25],[1.339,5.66],[1.401,5.76],[1.462,5.27],[1.535,4.69],[1.633,4.49],[1.83,4.59],[1.879,4.4],[1.952,4.2],[2.369,4.49],[2.418,4.49],[1.903,5.08],[1.94,5.17],
        [1.1,14.0],[1.15,13.5],[1.2,13.8],[1.25,13.0],[1.3,12.0],[1.35,12.5],[1.4,13.2],[1.45,12.8],[1.5,13.0],[1.55,13.4],[1.6,12.9],[1.05,15.5],[1.1,16.0],[1.15,15.8],[1.0,16.5],[0.95,16.0],[0.9,15.6],[1.25,16.3],[1.3,15.2],[1.4,14.4],[1.5,14.0],[1.6,13.8],[1.65,13.0],[1.7,13.5],[1.75,12.4],[1.2,12.0],[1.3,11.6],[1.0,12.2],[0.95,12.8],[1.05,12.5],[1.15,11.3],[1.25,10.2],[1.35,9.5],[1.45,9.8],[1.55,10.0],[1.2,17.8],[1.1,18.5],[0.95,18.2],[1.4,16.2],[1.5,15.8]]

      // ticks
      const phaseTicks = [0, Math.PI / 4, Math.PI / 2, 3 * Math.PI / 4, Math.PI]
      const phaseTickLabels = ['0', '¼π', '½π', '¾π', 'π']
      const wlTicksBeta = [0, 2, 4, 6, 8, 10, 12, 14, 16, 18]
      const wlTicksGamma = [0, 2, 4, 6, 8, 10, 12]
      const ampTicksBeta = [0, 20, 40, 60, 80, 100, 120, 140, 160]
      const ampTicksGamma = [0, 5, 10, 15, 20, 25]

      const width = 1349
      const height = 1746
      const stimColor = '#f0a500'
      const bgColor = '#45515b'
      const ink = '#1c1c1c'

      const svg = d3.select('body').append('svg').attr('width', width).attr('height', height)
      svg.append('rect').attr('width', width).attr('height', height).attr('fill', '#f2f1ea')
      svg.append('line').attr('x1', 0.75).attr('x2', 0.75).attr('y1', 0).attr('y2', height)
        .attr('stroke', '#8a8a8a').attr('stroke-width', 1.5)

      function panel(box, xDomain, yDomain, xTicks, yTicks, xLabels) {
        const x = d3.scaleLinear().domain(xDomain).range([box.left, box.left + box.w])
        const y = d3.scaleLinear().domain(yDomain).range([box.top + box.h, box.top])
        const g = svg.append('g')

        const xAxis = g.append('g')
          .attr('transform', `translate(0,${box.top + box.h})`)
          .call(d3.axisBottom(x).tickValues(xTicks).tickSize(-8).tickSizeOuter(0).tickPadding(12)
            .tickFormat((d, i) => xLabels ? xLabels[i] : d))
        const yAxis = g.append('g')
          .attr('transform', `translate(${box.left},0)`)
          .call(d3.axisLeft(y).tickValues(yTicks).tickSize(-8).tickSizeOuter(0).tickPadding(7))

        ;[xAxis, yAxis].forEach(a => {
          a.select('.domain').attr('stroke', ink).attr('stroke-width', 2)
          a.selectAll('.tick line').attr('stroke', ink).attr('stroke-width', 1.5)
          a.selectAll('.tick text').attr('font-size', 21).attr('fill', ink)
            .attr('font-family', "'DejaVu Sans', sans-serif")
        })
        if (xLabels) {
          xAxis.selectAll('.tick text')
            .filter((d, i) => i > 0)
            .attr('font-family', "'DejaVu Serif', serif")
        }
        return { x, y, g, box }
      }

      function dots(p, data, color) {
        p.g.append('g').selectAll('circle')
          .data(data)
          .join('circle')
          .attr('cx', d => p.x(d[0]))
          .attr('cy', d => p.y(d[1]))
          .attr('r', 2.4)
          .attr('fill', color)
      }

      function textLines(x, baselines, lines, size, anchor) {
        lines.forEach((t, i) => {
          svg.append('text').attr('x', x).attr('y', baselines[i])
            .attr('font-size', size).attr('text-anchor', anchor).text(t)
        })
      }

      function yLabel(x, y, label) {
        svg.append('text').attr('transform', `translate(${x},${y}) rotate(-90)`)
          .attr('text-anchor', 'middle').attr('font-size', 30).text(label)
      }

      function syncLine(p, textOffset) {
        const sx = p.x(Math.PI / 4)
        p.g.append('line').attr('x1', sx).attr('x2', sx)
          .attr('y1', p.box.top).attr('y2', p.box.top + p.box.h)
          .attr('stroke', ink).attr('stroke-width', 2)
        if (textOffset != null) {
          p.g.append('text').attr('transform', `translate(${sx - textOffset},${p.box.top}) rotate(-90)`)
            .attr('text-anchor', 'end').attr('font-size', 27.5).text('Synchronous')
        }
      }

      // panel frames
      const a1 = panel({ left: 170, top: 125, w: 428, h: 427 }, [0, 160], [0, 18], ampTicksBeta, wlTicksBeta)
      const a2 = panel({ left: 170, top: 651, w: 428, h: 427 }, [0, Math.PI], [0, 18], phaseTicks, wlTicksBeta, phaseTickLabels)
      const a3 = panel({ left: 184, top: 1212.5, w: 427.5, h: 427.5 }, [0, Math.PI], [0, 160], phaseTicks, ampTicksBeta, phaseTickLabels)
      const b1 = panel({ left: 861, top: 125, w: 427, h: 427 }, [0, 25], [0, 12], ampTicksGamma, wlTicksGamma)
      const b2 = panel({ left: 861, top: 651, w: 427, h: 427 }, [0, Math.PI], [0, 12], phaseTicks, wlTicksGamma, phaseTickLabels)
      const b3 = panel({ left: 861, top: 1212.5, w: 427.5, h: 427.5 }, [0, Math.PI], [0, 25], phaseTicks, ampTicksGamma, phaseTickLabels)

      // reference lines drawn beneath the points
      syncLine(a2, 17)
      syncLine(a3, null)
      syncLine(b3, 16.5)

      // points
      dots(a1, betaAmpWl, bgColor)
      dots(a2, betaPhaseWl, bgColor)
      dots(a3, betaPhaseAmp, bgColor)
      dots(b1, gammaAmpWlBg, bgColor)
      dots(b1, gammaAmpWlStim, stimColor)
      dots(b2, gammaPhaseWlBg, bgColor)
      dots(b2, gammaPhaseWlStim, stimColor)
      dots(b3, gammaPhaseAmpBg, bgColor)
      dots(b3, gammaPhaseAmpStim, stimColor)

      // titles
      svg.append('text').attr('x', 92).attr('y', 73).attr('font-size', 57).attr('font-weight', 'bold').text('A')
      svg.append('text').attr('x', 164).attr('y', 60).attr('font-size', 40).text('Beta plane-wave events')
      svg.append('text').attr('x', 781).attr('y', 73).attr('font-size', 57).attr('font-weight', 'bold').text('B')
      textLines(1097, [60, 111], ['Optogenetically-induced', 'γ-LFP waves'], 40, 'middle')

      // axis titles
      yLabel(114, 338.5, 'Wavelength (mm)')
      yLabel(114, 864.5, 'Wavelength (mm)')
      yLabel(114, 1426, 'Average amplitude (μV)')
      yLabel(805, 338.5, 'Wavelength (mm)')
      yLabel(805, 864.5, 'Wavelength (mm)')
      yLabel(805, 1426, 'Average amplitude (μV)')
      textLines(384, [620], ['Average amplitude (μV)'], 30, 'middle')
      textLines(1074.5, [620], ['Average amplitude (μV)'], 30, 'middle')
      textLines(384, [1148, 1182], ['Standard deviation', 'Hilbert phase'], 30, 'middle')
      textLines(1074.5, [1148, 1182], ['Standard deviation', 'Hilbert phase'], 30, 'middle')
      textLines(397.7, [1709, 1743], ['Standard deviation', 'Hilbert phase'], 30, 'middle')
      textLines(1074.7, [1709, 1743], ['Standard deviation', 'Hilbert phase'], 30, 'middle')

      // annotations
      textLines(598, [134, 170], ['β wavelength is diverse,', 'correlates with amplitude'], 27.5, 'end')
      textLines(598, [781, 816, 850], ['Graded transition', 'from waves', 'to synchrony'], 27.5, 'end')
      textLines(598.5, [1281, 1316], ['High β amplitude', 'synchronizes'], 27.5, 'end')
      textLines(1345, [1264, 1300, 1334], ['Stimulated waves', 'lack 0-lag spatial', 'phase synchrony'], 27.5, 'end')

      // arrow in A bottom, given in data coordinates
      svg.append('defs').append('marker')
        .attr('id', 'head').attr('viewBox', '0 0 12 12').attr('refX', 11).attr('refY', 6)
        .attr('markerWidth', 13).attr('markerHeight', 13).attr('markerUnits', 'userSpaceOnUse')
        .attr('orient', 'auto')
        .append('path').attr('d', 'M1,1.5 L11,6 L1,10.5').attr('fill', 'none')
        .attr('stroke', ink).attr('stroke-width', 1.8)
      const arrowPts = [[1.234, 138.6], [0.741, 138.8], [0.483, 130.9], [0.333, 115.6]].map(d => [a3.x(d[0]), a3.y(d[1])])
      const ap = d3.path()
      ap.moveTo(...arrowPts[0])
      ap.bezierCurveTo(...arrowPts[1], ...arrowPts[2], ...arrowPts[3])
      svg.append('path').attr('d', ap.toString()).attr('fill', 'none')
        .attr('stroke', ink).attr('stroke-width', 1.8).attr('marker-end', 'url(#head)')

      // bracket for the 2-4 mm band in B top
      const bx0 = b1.x(23.4), bx1 = b1.x(24.0), by0 = b1.y(4.35), by1 = b1.y(2.35)
      svg.append('path').attr('d', `M${bx0},${by0}H${bx1}V${by1}H${bx0}`)
        .attr('fill', 'none').attr('stroke', ink).attr('stroke-width', 1.8)
      svg.append('text').attr('transform', `translate(${b1.x(25.69)},${b1.y(5.96)}) rotate(-90)`)
        .attr('text-anchor', 'middle').attr('font-size', 27.5).text('~2-4 mm wavelength')

      // legend in B middle
      const legend = [['Stimulation', stimColor], ['Background', bgColor]]
      legend.forEach((d, i) => {
        svg.append('rect').attr('x', 950).attr('y', 684 + i * 41).attr('width', 61).attr('height', 32).attr('fill', d[1])
        svg.append('text').attr('x', 1038).attr('y', 713 + i * 37).attr('font-size', 35).text(d[0])
      })
    </script>
  </body>
</html>
